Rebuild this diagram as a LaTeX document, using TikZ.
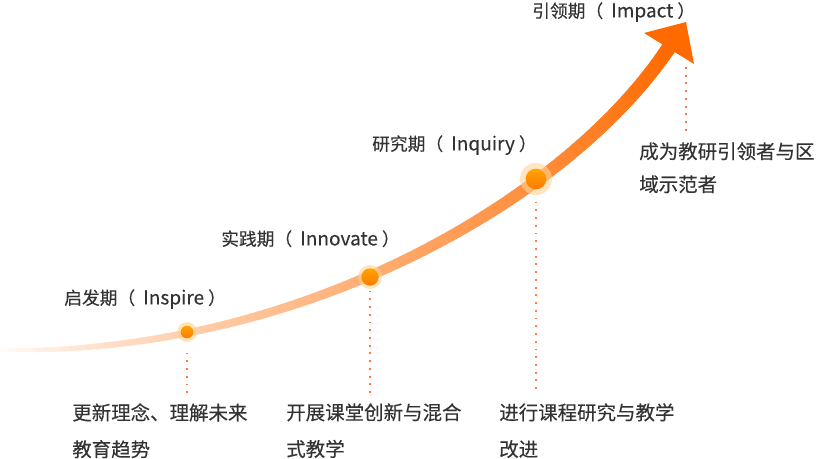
\documentclass[tikz,border=0pt]{standalone}
\usepackage{fontspec}
\setmainfont{Noto Sans CJK SC}
\newfontfamily\txtfont[FakeBold=0.25]{Noto Sans CJK SC}
\definecolor{arrorange}{HTML}{FF6A00}
\definecolor{haloc}{HTML}{FFD494}
\definecolor{dottop}{HTML}{FFA400}
\definecolor{dotbot}{HTML}{FF7A00}
\definecolor{dotline}{HTML}{FF7A3C}
\definecolor{txt}{HTML}{333333}
\newcommand{\latpart}[1]{\hspace{6pt}{\fontsize{14.3pt}{16pt}\selectfont #1}\hspace{3pt}}
\tikzset{
  halo/.style={circle, fill=haloc, fill opacity=0.6, draw=none, inner sep=0pt},
  dotn/.style={circle, top color=dottop, bottom color=dotbot, draw=none, inner sep=0pt},
  dotted line/.style={dotline, line width=1.4pt, dash pattern=on 1.4pt off 4.4pt},
  stage/.style={font=\txtfont\fontsize{13.3pt}{16pt}\selectfont, text=txt, inner sep=0pt, anchor=north west},
  desc/.style={font=\txtfont\fontsize{14.6pt}{27.5pt}\selectfont, text=txt, inner sep=0pt, anchor=north west, align=left},
  descr/.style={font=\txtfont\fontsize{14.6pt}{24.75pt}\selectfont, text=txt, inner sep=0pt, anchor=north west, align=left},
}
\begin{document}
\begin{tikzpicture}[x=0.75pt,y=-0.75pt,
  declare function={
    bx(\t)=3*(1-\t)*(1-\t)*\t*300+3*(1-\t)*\t*\t*570+\t*\t*\t*670;
    by(\t)=(1-\t)*(1-\t)*(1-\t)*350+3*(1-\t)*(1-\t)*\t*356+3*(1-\t)*\t*\t*198+\t*\t*\t*46;
  }]
\useasboundingbox (0,0) rectangle (816,458);
% gradient curve
\foreach \i in {0,...,99}{
  \pgfmathsetmacro\ta{\i/100}
  \pgfmathsetmacro\tb{(\i+1)/100}
  \pgfmathsetmacro\xa{bx(\ta)}
  \pgfmathsetmacro\ya{by(\ta)}
  \pgfmathsetmacro\xb{bx(\tb)}
  \pgfmathsetmacro\yb{by(\tb)}
  \pgfmathsetmacro\w{0.75*(2.5+12*(\tb)^0.6)}
  \pgfmathtruncatemacro\p{100*(\tb)^0.75}
  \draw[line width=\w pt, color=arrorange!\p!white, line cap=round] (\xa,\ya) -- (\xb,\yb);
}
% arrow head
\fill[arrorange] (644,33) -- (686,22) -- (694,64) -- cycle;
% milestones
\node[halo, minimum size=15pt] (h1) at (187,332) {};
\node[dotn, minimum size=9.5pt] (d1) at (187,332) {};
\node[halo, minimum size=18pt] (h2) at (370,277) {};
\node[dotn, minimum size=13pt] (d2) at (370,277) {};
\node[halo, minimum size=24pt] (h3) at (536,179) {};
\node[dotn, minimum size=15.5pt] (d3) at (536,179) {};
% dotted lines
\coordinate (e1) at (187,393);
\coordinate (e2) at (370,393);
\coordinate (e3) at (536,393);
\coordinate (s4) at (686,67);
\coordinate (e4) at (686,136);
\draw[dotted line] ([yshift=-10.5pt]d1.south) -- (e1);
\draw[dotted line] ([yshift=-3.5pt]d2.south) -- (e2);
\draw[dotted line] ([yshift=-9pt]d3.south) -- (e3);
\draw[dotted line] (s4) -- (e4);
% stage labels
\node[stage] (l1) at (64,289) {启发期（\latpart{Inspire}）};
\node[stage] (l2) at (221,230) {实践期（\latpart{Innovate}）};
\node[stage] (l3) at (372,135) {研究期（\latpart{Inquiry}）};
\node[stage] (l4) at (532,2) {引领期（\latpart{Impact}）};
% descriptions
\node[desc] (t1) at (72,403) {更新理念、理解未来\\教育趋势};
\node[desc] (t2) at (286,403) {开展课堂创新与混合\\式教学};
\node[desc] (t3) at (499,403) {进行课程研究与教学\\改进};
\node[descr] (t4) at (639,142) {成为教研引领者与区\\域示范者};
\end{tikzpicture}
\end{document}
